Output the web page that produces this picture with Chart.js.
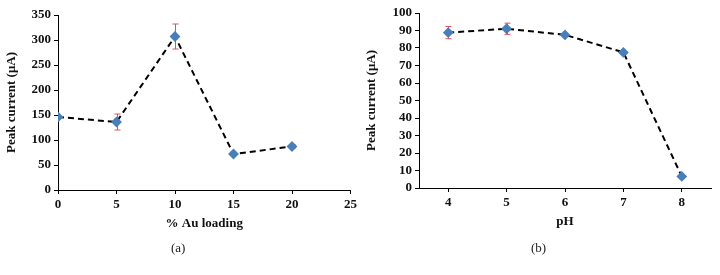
<!DOCTYPE html>
<html>
<head>
<meta charset="utf-8">
<script src="https://cdn.jsdelivr.net/npm/chart.js@4"></script>
<style>
  body { margin: 0; background: #fff; }
  .wrap { position: relative; width: 720px; height: 275px; }
  .panel { position: absolute; top: 0; width: 360px; height: 275px; }
  .cap { position: absolute; top: 240px; font: 13px "Liberation Serif", serif; color: #222; }
</style>
</head>
<body>
<div class="wrap">
  <div class="panel" style="left:0"><canvas id="chartA" width="360" height="275"></canvas></div>
  <div class="panel" style="left:360px"><canvas id="chartB" width="360" height="275"></canvas></div>
  <div class="cap" style="left:171px">(a)</div>
  <div class="cap" style="left:531px">(b)</div>
</div>
<script>
// (a) peak current vs Au loading
const auLoading = [0, 5, 10, 15, 20];
const auCurrent = [146, 136, 307, 72, 87];
const auError   = [0, 16, 25, 0, 4];

// (b) peak current vs pH
const phValues  = [4, 5, 6, 7, 8];
const phCurrent = [88.8, 91, 87.5, 77.5, 6.6];
const phError   = [3.5, 3.2, 0, 0, 0];

const fontBold = { family: '"Liberation Serif", serif', size: 13, weight: 'bold' };

// draw red error bars using the chart scales
const errorBars = {
  id: 'errorBars',
  beforeDatasetsDraw(chart, args, opts) {
    const ctx = chart.ctx, xs = chart.scales.x, ys = chart.scales.y;
    const ds = chart.data.datasets[0];
    ctx.save();
    ctx.strokeStyle = '#e2505e';
    ctx.lineWidth = 1;
    ds.data.forEach((pt, i) => {
      const e = opts.errors[i];
      if (!e) return;
      const x = Math.round(xs.getPixelForValue(pt.x)) + 0.5;
      const y1 = ys.getPixelForValue(pt.y + e), y2 = ys.getPixelForValue(pt.y - e);
      ctx.beginPath();
      ctx.moveTo(x, y1); ctx.lineTo(x, y2);
      ctx.moveTo(x - 3, y1); ctx.lineTo(x + 3, y1);
      ctx.moveTo(x - 3, y2); ctx.lineTo(x + 3, y2);
      ctx.stroke();
    });
    ctx.restore();
  }
};

function makeChart(id, xs, ys, errs, cfg) {
  const axisCommon = {
    grid: { drawOnChartArea: false, drawTicks: true, tickLength: 4, color: '#000' },
    border: { color: '#000', width: 1 },
    ticks: { color: '#111', font: fontBold, padding: 3, autoSkip: false }
  };
  return new Chart(document.getElementById(id).getContext('2d'), {
    type: 'line',
    data: {
      datasets: [{
        data: xs.map((x, i) => ({ x, y: ys[i] })),
        borderColor: '#000',
        borderWidth: 2,
        borderDash: [6, 4],
        tension: 0,
        pointStyle: 'rectRot',
        pointRadius: 4,
        pointBackgroundColor: '#4a7ebb',
        pointBorderColor: '#4a7ebb'
      }]
    },
    options: {
      responsive: false,
      animation: false,
      layout: { padding: cfg.padding },
      plugins: { legend: { display: false }, tooltip: { enabled: false }, errorBars: { errors: errs } },
      scales: {
        x: {
          ...axisCommon,
          type: 'linear',
          min: cfg.xMin, max: cfg.xMax,
          afterBuildTicks: s => { s.ticks = cfg.xTicks.map(v => ({ value: v })); },
          afterFit: s => { s.height = 45; },
          title: { display: true, text: cfg.xTitle, color: '#111', font: fontBold }
        },
        y: {
          ...axisCommon,
          min: cfg.yMin, max: cfg.yMax,
          ticks: { ...axisCommon.ticks, stepSize: cfg.yStep },
          afterFit: s => { s.width = cfg.yWidth; },
          title: { display: true, text: 'Peak current (μA)', color: '#111', font: fontBold }
        }
      }
    },
    plugins: [errorBars]
  });
}

makeChart('chartA', auLoading, auCurrent, auError, {
  xMin: 0, xMax: 25, xTicks: [0, 5, 10, 15, 20, 25], xTitle: '% Au loading',
  yMin: 0, yMax: 350, yStep: 50, yWidth: 58,
  padding: { top: 15, right: 9, bottom: 40, left: 0 }
});

makeChart('chartB', phValues, phCurrent, phError, {
  xMin: 3.5, xMax: 8.5, xTicks: [4, 5, 6, 7, 8], xTitle: 'pH',
  yMin: 0, yMax: 100, yStep: 10, yWidth: 59,
  padding: { top: 13, right: 9, bottom: 42, left: 0 }
});
</script>
</body>
</html>
